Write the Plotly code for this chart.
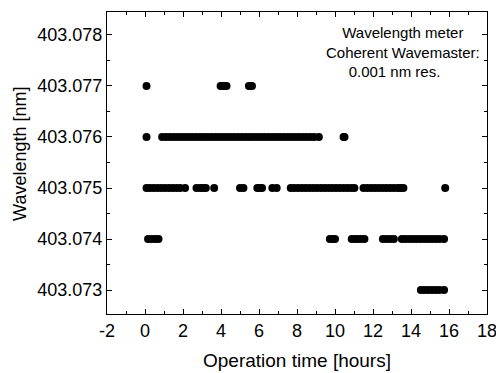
import plotly.graph_objects as go

# Operation time [hours] for each wavelength level
t_077 = [0.08, 3.98, 4.05, 4.12, 4.2, 4.29, 5.47, 5.55, 5.63]
t_076 = [0.08, 0.9, 1.1, 1.3, 1.5, 1.7, 1.9, 2.1, 2.3, 2.5, 2.7, 2.9, 3.1, 3.3,
         3.5, 3.7, 3.9, 4.1, 4.3, 4.5, 4.7, 4.9, 5.1, 5.3, 5.5, 5.7, 5.9, 6.1,
         6.3, 6.5, 6.7, 6.9, 7.1, 7.3, 7.5, 7.7, 7.9, 8.1, 8.3, 8.5, 8.7, 8.9,
         9.15, 10.45, 10.5]
t_075 = [0.08, 0.25, 0.45, 0.65, 0.85, 1.05, 1.25, 1.45, 1.65, 1.85, 2.11,
         2.71, 2.9, 3.05, 3.2, 3.64, 5.0, 5.18, 5.91, 6.05, 6.16, 6.7, 6.93,
         7.67, 7.85, 8.05, 8.25, 8.45, 8.65, 8.85, 9.05, 9.25, 9.45, 9.65,
         9.85, 10.05, 10.25, 10.45, 10.65, 10.85, 11.02, 11.5, 11.7, 11.9,
         12.1, 12.3, 12.5, 12.7, 12.9, 13.1, 13.3, 13.45, 13.6, 15.8]
t_074 = [0.16, 0.35, 0.55, 0.71, 9.73, 9.87, 10.0, 10.88, 11.05, 11.2, 11.38,
         11.55, 12.52, 12.7, 12.9, 13.1, 13.52, 13.7, 13.9, 14.1, 14.3, 14.5,
         14.7, 14.9, 15.1, 15.3, 15.5, 15.74]
t_073 = [14.52, 14.7, 14.9, 15.1, 15.3, 15.5, 15.74]

levels = [403.077, 403.076, 403.075, 403.074, 403.073]
times = [t_077, t_076, t_075, t_074, t_073]

xs, ys = [], []
for lv, ts in zip(levels, times):
    xs += ts
    ys += [lv] * len(ts)

x_ticks = [-2, 0, 2, 4, 6, 8, 10, 12, 14, 16, 18]
y_ticks = [403.073, 403.074, 403.075, 403.076, 403.077, 403.078]

FONT = "Arial, Liberation Sans, sans-serif"

fig = go.Figure(go.Scatter(
    x=xs, y=ys, mode="markers",
    marker=dict(color="black", size=8, line=dict(width=0)),
    hoverinfo="skip",
))

axis_common = dict(
    showline=True, linecolor="black", linewidth=1, mirror="allticks",
    ticks="inside", ticklen=5, tickwidth=1, tickcolor="black",
    showgrid=False, zeroline=False, automargin=False,
    ticklabeloverflow="allow",
    tickfont=dict(family=FONT, size=18, color="black"),
)

fig.update_layout(
    width=496, height=373,
    margin=dict(l=107, r=9, t=12, b=59, autoexpand=False),
    paper_bgcolor="white", plot_bgcolor="white",
    showlegend=False,
    xaxis=dict(range=[-2, 18], tickvals=x_ticks, ticktext=[str(v) for v in x_ticks],
               minor=dict(ticks="inside", ticklen=3, dtick=1, tick0=-2, tickcolor="black"),
               **axis_common),
    yaxis=dict(range=[403.07253, 403.07845], tickvals=y_ticks,
               ticktext=[f"{v:.3f}" for v in y_ticks],
               minor=dict(ticks="inside", ticklen=3, dtick=0.0005, tick0=403.0725, tickcolor="black"),
               **axis_common),
    annotations=[
        dict(text="Wavelength meter<br>Coherent Wavemaster:<br>0.001 nm res.&nbsp;&nbsp;&nbsp;&nbsp;",
             xref="paper", yref="paper", x=0.78, y=0.968, xanchor="center", yanchor="top",
             showarrow=False, align="center",
             font=dict(family=FONT, size=15, color="black")),
        dict(text="Operation time [hours]", xref="paper", yref="paper",
             x=0.5, y=-0.154, xanchor="center", yanchor="middle", showarrow=False,
             font=dict(family=FONT, size=19, color="black")),
        dict(text="Wavelength [nm]", xref="paper", yref="paper", textangle=-90,
             x=-0.229, y=0.53, xanchor="center", yanchor="middle", showarrow=False,
             font=dict(family=FONT, size=18, color="black")),
    ],
)

fig.write_html("out.html", config={"displayModeBar": False, "staticPlot": True})

# remove default page margin so the figure sits at the window's top-left corner
with open("out.html", "r", encoding="utf-8") as f:
    html = f.read()
html = html.replace("<head>", "<head><style>html,body{margin:0;padding:0;overflow:hidden;}</style>", 1)
with open("out.html", "w", encoding="utf-8") as f:
    f.write(html)
